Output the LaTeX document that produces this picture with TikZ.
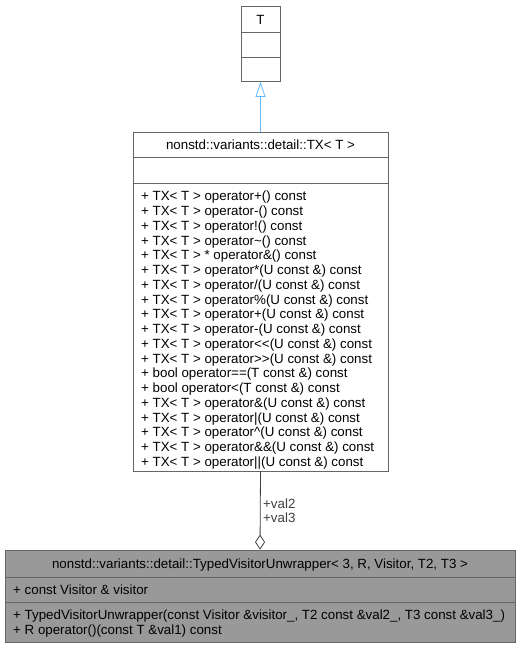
\documentclass[tikz,border=0pt]{standalone}
\usepackage{fontspec}
\setmainfont{Liberation Sans}
\usetikzlibrary{arrows.meta}
\definecolor{boxline}{HTML}{666666}
\definecolor{rootfill}{HTML}{999999}
\definecolor{inheritline}{HTML}{63B8FF}
\definecolor{aggline}{HTML}{404040}
\tikzset{
  classbox/.style={draw=boxline, line width=0.8pt, inner sep=0pt},
  divider/.style={draw=boxline, line width=0.8pt},
  member/.style={anchor=base west, inner sep=0pt, font=\fontsize{13.33}{14.7}\selectfont},
  classname/.style={anchor=base, inner sep=0pt, font=\fontsize{13.33}{14.7}\selectfont}
}

\begin{document}
\begin{tikzpicture}[x=1pt,y=-1pt]
                \useasboundingbox (0,0) rectangle (521,648);

                % Base class T
                \node[classbox, fill=white, minimum width=39pt, minimum height=75pt] (t) at (260.5,44) {};
                \node[classname] (tname) at (260.5,24) {T};
                \draw[divider] (241,32) -- (280,32);
                \draw[divider] (241,57) -- (280,57);

                % Class TX< T >
                \node[classbox, fill=white, minimum width=255pt, minimum height=339pt] (tx) at (260.5,301.5) {};
                \node[classname] (txname) at (260.5,149.5) {nonstd::variants::detail::TX< T >};
                \draw[divider] (133,157) -- (388,157);
                \draw[divider] (133,183) -- (388,183);
                \foreach \op [count=\i from 0] in {%
                    + TX< T > operator+() const,
                    + TX< T > operator-() const,
                    + TX< T > operator!() const,
                    + TX< T > operator\textasciitilde() const,
                    + TX< T > * operator\&() const,
                    + TX< T > operator*(U const \&) const,
                    + TX< T > operator/(U const \&) const,
                    + TX< T > operator\%(U const \&) const,
                    + TX< T > operator+(U const \&) const,
                    + TX< T > operator-(U const \&) const,
                    + TX< T > operator<\kern0pt<(U const \&) const,
                    + TX< T > operator>\kern0pt>(U const \&) const,
                    + bool operator==(T const \&) const,
                    + bool operator<(T const \&) const,
                    + TX< T > operator\&(U const \&) const,
                    + TX< T > operator|(U const \&) const,
                    + TX< T > operator\textasciicircum(U const \&) const,
                    + TX< T > operator\&\&(U const \&) const,
                    + TX< T > operator||(U const \&) const}
                    \node[member] (txop\i) at (141,{200.8+14.75*\i}) {\op};

                % Class TypedVisitorUnwrapper
                \node[classbox, fill=rootfill, minimum width=510pt, minimum height=92pt] (tvu) at (260,596) {};
                \node[classname] (tvuname) at (260,568) {nonstd::variants::detail::TypedVisitorUnwrapper< 3, R, Visitor, T2, T3 >};
                \draw[divider] (5,577) -- (515,577);
                \draw[divider] (5,602) -- (515,602);
                \node[member] (visitor) at (13,594) {+ const Visitor \& visitor};
                \node[member] (ctor) at (13,619.5) {+ TypedVisitorUnwrapper(const Visitor \&visitor\_, T2 const \&val2\_, T3 const \&val3\_)};
                \node[member] (callop) at (13,634.2) {+ R operator()(const T \&val1) const};

                % Inheritance
                \draw[inheritline, line width=0.8pt, -{Triangle[open, length=15pt, width=10pt]}] (tx.north) -- (t.south);

                % Aggregation
                \draw[aggline, line width=0.8pt, -{Diamond[open, length=15pt, width=10pt]}] (tx.south) -- (tvu.north);
                \node[align=center, anchor=base west, inner sep=0pt, text=aggline, font=\fontsize{13.33}{14.7}\selectfont] (vals) at (263,522.7) {+val2\\+val3};
\end{tikzpicture}
\end{document}
